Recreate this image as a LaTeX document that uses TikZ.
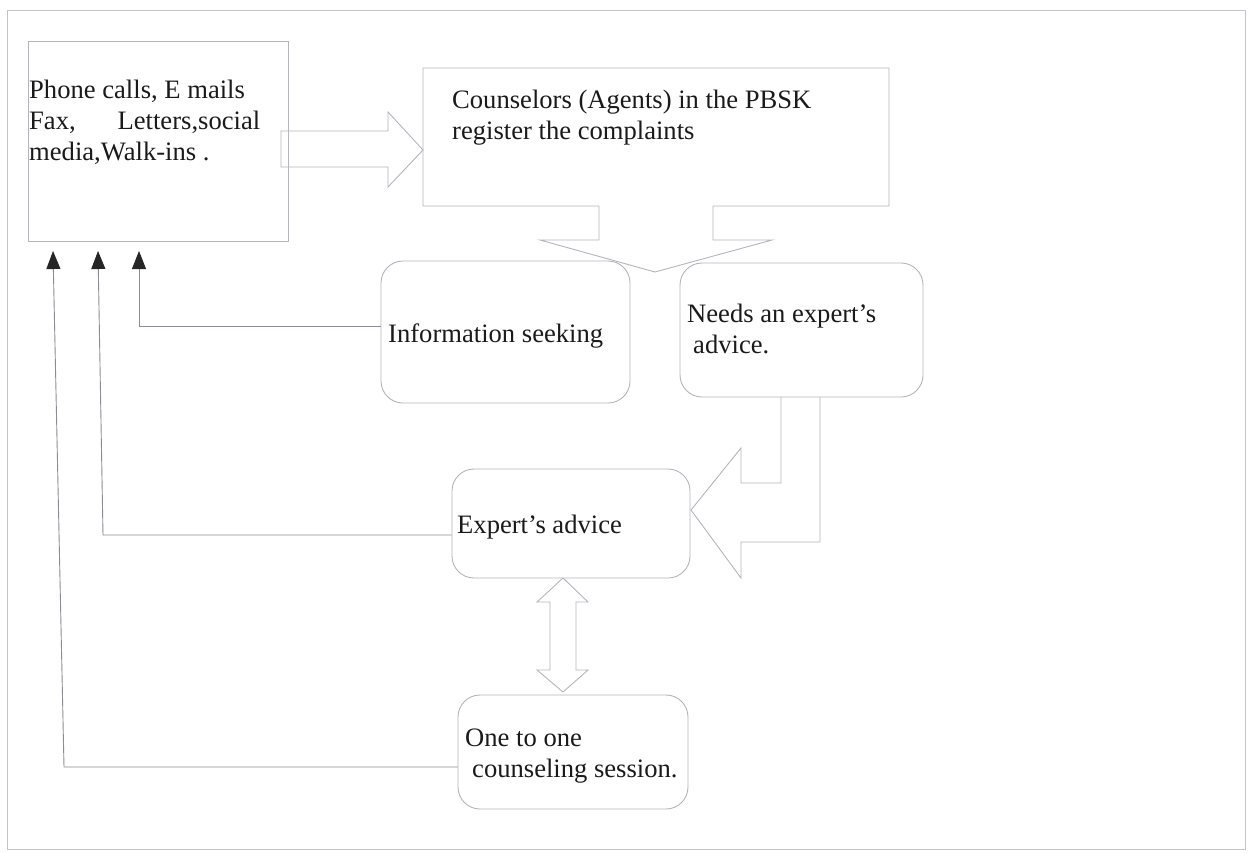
\documentclass[tikz,border=0pt]{standalone}
\usepackage{fontspec}
\setmainfont{Liberation Serif}
\usetikzlibrary{arrows.meta}
\definecolor{boxline}{HTML}{B4B4BC}
\definecolor{conline}{HTML}{8C8C94}
\definecolor{txtcol}{HTML}{1A1A1A}
\begin{document}
\begin{tikzpicture}[x=1pt,y=-1pt,
  box/.style={draw=boxline,line width=0.9pt,rectangle,inner sep=0pt},
  rbox/.style={box,rounded corners=22pt},
  lbl/.style={text=txtcol,font=\fontsize{26.6}{31}\selectfont,inner sep=0pt,anchor=base west,align=left},
  blockarrow/.style={draw=boxline,line width=0.9pt,line join=miter},
  conn/.style={draw=conline,line width=0.9pt},
  fb/.style={conn,-{Triangle[length=18pt,width=14pt,fill=black!85,color=black!85]}}
]
\useasboundingbox (0,0) rectangle (1252,852);
% outer frame
\draw[draw=boxline!80,line width=0.8pt] (7,10) rectangle (1245,849);

% source box
\node[box,minimum width=260pt,minimum height=200pt] (src) at (158,141) {};
\node[lbl] (srctxt) at (29,160) {Phone calls, E mails\\\makebox[231pt][l]{Fax,\hfill Letters,social}\\media,Walk-ins .};

% counselors box with down arrow
\node[inner sep=0pt,minimum width=466pt,minimum height=138pt] (cons) at (656,137) {};
\draw[blockarrow] (423,68) -- (889,68) -- (889,206) -- (713,206) -- (713,240) -- (772,240)
  -- (655,272) -- (540,240) -- (599,240) -- (599,206) -- (423,206) -- cycle;
\node[lbl] (constxt) at (452,139) {Counselors (Agents) in the PBSK\\register the complaints};

% block arrow src -> cons
\draw[blockarrow] (281,131) -- (388,131) -- (388,112) -- (423,150) -- (388,187) -- (388,167) -- (281,167) -- cycle;

% info seeking
\node[rbox,minimum width=249pt,minimum height=142pt] (info) at (505.5,332) {};
\node[lbl] (infotxt) at (388,342) {Information seeking};

% needs expert
\node[rbox,minimum width=243pt,minimum height=134pt] (needs) at (801.5,330) {};
\node[lbl] (needstxt) at (687,353) {Needs an expert’s\\\hspace{6pt}advice.};

% expert's advice
\node[rbox,minimum width=238pt,minimum height=109pt] (expert) at (571,523.5) {};
\node[lbl] (experttxt) at (457,533) {Expert’s advice};

% one to one
\node[rbox,minimum width=230pt,minimum height=114pt] (one) at (573,752) {};
\node[lbl] (onetxt) at (465,777) {One to one\\\hspace{7pt}counseling session.};

% bent block arrow needs -> expert
\draw[blockarrow] (781,397) -- (781,483) -- (741,483) -- (741,448) -- (691,510) -- (741,578)
  -- (741,542) -- (820,542) -- (820,397);

% double block arrow expert <-> one
\draw[blockarrow] (563,578) -- (588,602) -- (576,602) -- (576,670) -- (588,670) -- (563,692)
  -- (537,670) -- (550,670) -- (550,602) -- (537,602) -- cycle;

% feedback connectors
\coordinate (t1) at (53,251);
\coordinate (t2) at (98,251);
\coordinate (t3) at (139,251);
\coordinate (c3) at (139,326);
\coordinate (c2) at (103,535);
\coordinate (c1) at (64,767);
\draw[fb] ([yshift=6pt]info.west) -- (c3) -- (t3);
\draw[fb] ([yshift=-11.5pt]expert.west) -- (c2) -- (t2);
\draw[fb] ([yshift=-15pt]one.west) -- (c1) -- (t1);
\end{tikzpicture}
\end{document}
